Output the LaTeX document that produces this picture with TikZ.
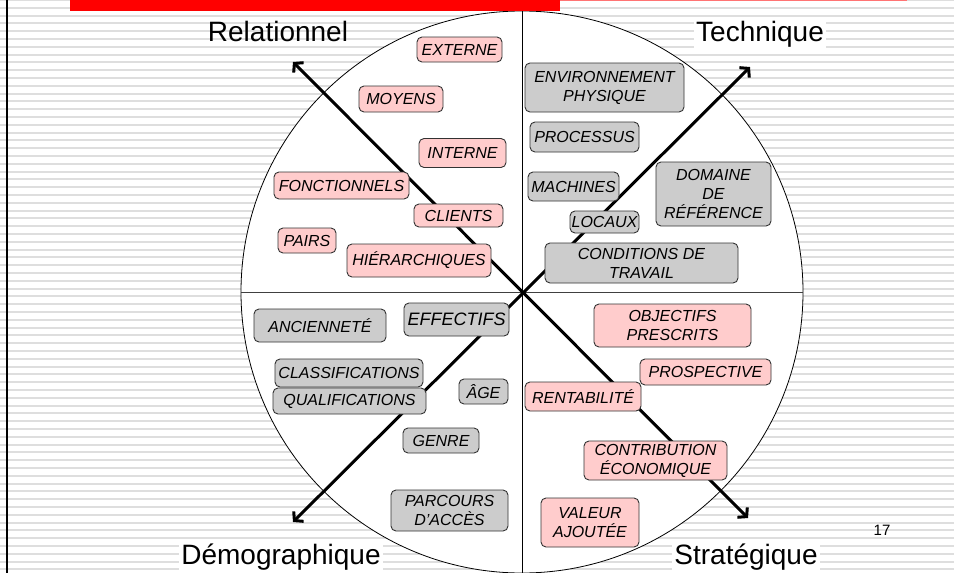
\documentclass[tikz,border=0pt]{standalone}
\usepackage{fontspec}
\setmainfont{Liberation Sans}
\usetikzlibrary{arrows.meta}
\definecolor{pinkfill}{HTML}{FFCCCC}
\definecolor{greyfill}{HTML}{CCCCCC}
\definecolor{boxline}{HTML}{333333}
\definecolor{stripegrey}{HTML}{DEDEDE}

\begin{document}
\begin{tikzpicture}[x=1pt,y=-1pt,
    box/.style={draw=boxline, line width=0.9pt, rounded corners=5pt, inner sep=0pt,
      align=center, font=\fontsize{16}{19}\selectfont\itshape},
    pinkbox/.style={box, fill=pinkfill},
    greybox/.style={box, fill=greyfill},
    axis/.style={line width=3pt,
      {Straight Barb[length=6pt,width=14pt]}-{Straight Barb[length=6pt,width=14pt]}},
    corner/.style={font=\fontsize{28}{30}\selectfont, anchor=base, inner sep=2pt},
    stripe/.style={stripegrey, line width=2pt}]
  \useasboundingbox (0,0) rectangle (954,573);
  % lined background
  \foreach \k in {0,...,73}
    \draw[stripe] (0,\k*7.8) -- (954,\k*7.8);
  \draw[line width=2.3pt] (7,0) -- (7,573);
  % circle and quadrants
  \draw[line width=0.8pt, fill=white] (522,292) circle[radius=281pt];
  \draw[line width=0.8pt] (522,11) -- (522,573);
  \draw[line width=0.8pt, black!75] (241,292) -- (803,292);
  \fill[red] (70,0) rectangle (560,11);
  \draw[red!55, line width=1pt] (560,0.5) -- (907,0.5);
  % axes
  \coordinate (rel) at (293,62);
  \coordinate (strat) at (748,518);
  \coordinate (demo) at (293,522);
  \coordinate (tech) at (750,67);
  \draw[axis] (rel) -- (strat);
  \draw[axis] (demo) -- (tech);
  % quadrant titles
  \node[corner] (relationnel) at (278,41) {Relationnel};
  \node[corner, fill=white] (technique) at (760,41) {Technique};
  \node[corner, fill=white] (demographique) at (281,564) {Démographique};
  \node[corner, fill=white] (strategique) at (746,564) {Stratégique};
  \node[font=\fontsize{15}{15}\selectfont] (page) at (882,530) {17};
  % relationnel
  \node[pinkbox, minimum width=85, minimum height=25] (externe) at (459.5,49.5) {EXTERNE};
  \node[pinkbox, minimum width=84, minimum height=26] (moyens) at (401,99) {MOYENS};
  \node[pinkbox, minimum width=87, minimum height=29] (interne) at (462.5,153) {INTERNE};
  \node[pinkbox, minimum width=135, minimum height=27] (fonctionnels) at (341.5,185.5) {FONCTIONNELS};
  \node[pinkbox, minimum width=89, minimum height=23] (clients) at (458.5,215.5) {CLIENTS};
  \node[pinkbox, minimum width=58, minimum height=25] (pairs) at (307,240.5) {PAIRS};
  \node[pinkbox, minimum width=144, minimum height=33] (hierarchiques) at (419,260.5) {HIÉRARCHIQUES};
  % technique
  \node[greybox, minimum width=159, minimum height=49] (environnement) at (604.5,87.5) {ENVIRONNEMENT\\PHYSIQUE};
  \node[greybox, minimum width=109, minimum height=30] (processus) at (584.5,137) {PROCESSUS};
  \node[greybox, minimum width=91, minimum height=29] (machines) at (573.5,186.5) {MACHINES};
  \node[greybox, minimum width=69, minimum height=22] (locaux) at (604.5,222) {LOCAUX};
  \node[greybox, minimum width=115, minimum height=64] (domaine) at (713.5,194) {DOMAINE\\DE\\RÉFÉRENCE};
  \node[greybox, minimum width=193, minimum height=40] (conditions) at (641.5,263) {CONDITIONS DE\\TRAVAIL};
  % demographique
  \node[greybox, minimum width=132, minimum height=33] (anciennete) at (320,325.5) {ANCIENNETÉ};
  \node[greybox, minimum width=105, minimum height=33, font=\fontsize{18}{20}\selectfont\itshape] (effectifs) at (456.5,319.5) {EFFECTIFS};
  \node[greybox, minimum width=148, minimum height=28] (classifications) at (349,373) {CLASSIFICATIONS};
  \node[greybox, minimum width=153, minimum height=26] (qualifications) at (349.5,401) {QUALIFICATIONS};
  \node[greybox, minimum width=49, minimum height=25] (age) at (483.5,391.5) {ÂGE};
  \node[greybox, minimum width=76, minimum height=25] (genre) at (441,440.5) {GENRE};
  \node[greybox, minimum width=117, minimum height=41] (parcours) at (449.5,510.5) {PARCOURS\\D'ACCÈS};
  % strategique
  \node[pinkbox, minimum width=157, minimum height=43] (objectifs) at (672.5,325.5) {OBJECTIFS\\PRESCRITS};
  \node[pinkbox, minimum width=131, minimum height=26] (prospective) at (705.5,372) {PROSPECTIVE};
  \node[pinkbox, minimum width=116, minimum height=29] (rentabilite) at (583,396.5) {RENTABILITÉ};
  \node[pinkbox, minimum width=143, minimum height=39] (contribution) at (655.5,460.5) {CONTRIBUTION\\ÉCONOMIQUE};
  \node[pinkbox, minimum width=98, minimum height=49] (valeur) at (590,522.5) {VALEUR\\AJOUTÉE};
\end{tikzpicture}
\end{document}
